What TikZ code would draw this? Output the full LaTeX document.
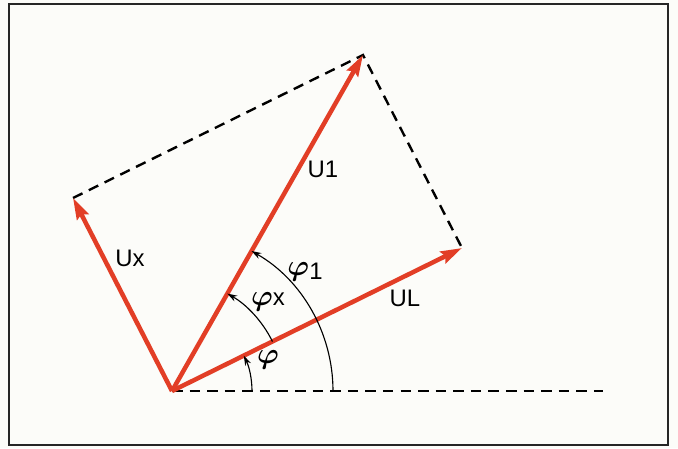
\documentclass[tikz,border=0pt]{standalone}
\usepackage{fontspec}
\setmainfont{Liberation Sans}
\usetikzlibrary{arrows.meta}
\definecolor{vecred}{RGB}{226,62,38}
\definecolor{paper}{RGB}{252,252,249}
\newcommand{\phis}{{\fontsize{20}{22}\selectfont$\boldsymbol{\varphi}$}}
\usepackage{amsmath}
\begin{document}
\begin{tikzpicture}[x=0.025cm,y=0.025cm,
  vec/.style={vecred,line width=3.2pt,-{Stealth[length=15pt,width=9pt,inset=2pt]}},
  aux/.style={line width=1.7pt,dash pattern=on 7.5pt off 5pt},
  ang/.style={line width=0.8pt,-{Stealth[length=7pt,width=4.5pt]}},
  lbl/.style={font=\fontsize{17}{19}\selectfont,inner sep=0pt}]
  \useasboundingbox (0,0) rectangle (678,448);
  \fill[paper] (0,0) rectangle (678,448);
  \draw[line width=2pt,black!85] (9,3) rectangle (668,444);

  % base point and vector tips
  \coordinate (O) at (172,57);
  \coordinate (base) at (603,57);
  \coordinate (UL) at (462,200);
  \coordinate (U1) at (363,393);
  \coordinate (UX) at (73,250);

  % dashed helper lines
  \draw[aux] (O) -- (base);
  \draw[aux] (UX) -- (U1) -- (UL);

  % vectors
  \draw[vec] (O) -- (UL);
  \draw[vec] (O) -- (U1);
  \draw[vec] (O) -- (UX);

  % angles
  \draw[ang] (O) ++(0:80) arc (0:26.2:80);
  \draw[ang] (O) ++(26.2:112) arc (26.2:60.4:112);
  \draw[ang] (O) ++(0:161) arc (0:60.4:161);

  % labels
  \node[lbl] (lU1) at (323,279) {U1};
  \node[lbl] (lUL) at (405,150) {UL};
  \node[lbl] (lUX) at (130,190) {Ux};
  \node[lbl] (lphi1) at (305,176) {\phis\raisebox{-0.3ex}{1}};
  \node[lbl] (lphix) at (268,146) {\phis x};
  \node[lbl] (lphi) at (268,88) {\phis};
\end{tikzpicture}
\end{document}
